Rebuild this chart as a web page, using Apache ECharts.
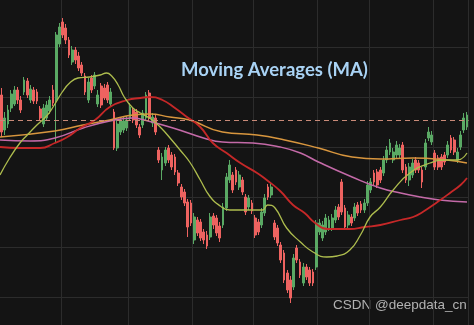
<!DOCTYPE html>
<html><head><meta charset="utf-8">
<script src="https://cdn.jsdelivr.net/npm/echarts@6.0.0/dist/echarts.min.js"></script>
<style>html,body{margin:0;padding:0;background:#141414;}#c{width:474px;height:325px;}</style>
</head><body><div id="c"></div>
<script>
// OHLC values (price units)
const openP = [
252,217,223,239,243,257,247,255,266,247,
257,255,238,223,229,236,257,247,303,325,
319,307,285,297,291,282,271,247,269,261,
243,261,259,262,243,235,199,215,217,219,
229,237,235,220,222,229,254,224,229,197,
177,184,199,192,190,174,160,155,145,144,
107,127,125,115,112,110,131,129,121,122,
139,167,172,177,160,167,150,140,144,129,
125,122,134,160,152,124,119,102,94,74,
67,60,99,85,64,80,77,75,80,115,
109,115,119,119,127,140,165,139,122,130,
129,142,143,137,144,157,174,175,177,174,
187,195,187,192,192,202,180,167,172,187,
184,177,180,209,205,194,189,190,192,192,
209,207,187,200,217,220];
const closeP = [
215,229,237,253,257,247,237,267,252,258,
246,246,229,239,242,247,244,312,320,312,
307,292,297,287,279,274,255,265,257,272,
252,242,249,247,255,199,223,227,226,227,
240,227,222,212,234,252,229,230,215,187,
190,197,187,180,175,164,150,144,120,124,
130,114,109,107,101,130,122,114,109,140,
170,182,157,165,172,155,135,149,136,112,
115,135,149,150,160,110,104,87,67,57,
49,89,87,72,80,70,64,64,124,124,
122,129,127,129,137,130,135,120,132,124,
140,134,137,144,162,165,165,162,167,187,
197,204,195,202,199,177,167,180,184,177,
177,165,204,215,212,180,180,180,185,202,
197,195,195,212,229,232];
const lowP = [
210,212,219,235,241,243,234,252,249,244,
243,243,226,220,226,233,241,204,300,309,
303,289,282,283,276,271,252,244,254,258,
240,239,247,244,240,197,196,212,214,216,
226,224,219,209,219,226,226,220,212,184,
167,181,184,177,172,161,147,141,110,121,
103,111,106,103,98,107,118,111,105,119,
136,164,154,162,157,152,132,137,133,109,
112,119,131,147,149,107,101,84,64,54,
44,57,84,69,61,67,61,61,77,112,
106,112,116,116,124,127,132,117,119,121,
126,131,134,134,141,154,162,159,164,171,
184,192,184,189,189,174,164,161,169,174,
174,159,177,206,202,177,177,177,182,189,
194,192,184,197,214,217];
const highP = [
259,235,242,257,261,260,251,270,269,262,
260,258,241,243,246,251,262,315,324,329,
323,310,301,300,295,285,274,269,272,275,
257,264,263,265,259,238,227,230,230,231,
244,240,238,223,237,255,257,234,232,200,
194,200,202,195,193,177,163,158,148,147,
134,130,128,118,116,134,134,132,125,144,
174,187,175,180,176,170,153,152,147,132,
128,139,153,163,164,127,122,105,97,77,
71,93,102,88,84,83,80,78,127,128,
126,133,131,133,141,143,168,142,136,133,
144,145,146,148,166,169,177,178,180,191,
201,208,199,206,203,205,183,184,188,190,
187,180,208,220,216,197,192,193,195,206,
212,210,199,216,234,235];

// Moving averages: [candle index, value]
const maGreen = [[-0.5,172],[2.5,189],[5.7,204],[8,212],[11,222],[14.3,232],[16.6,243],[18.9,255],[21.2,264],[23.8,269],[27.4,270],[30.7,272],[32.7,274],[34.3,271],[36.3,262],[38.2,250],[40.9,239],[43.2,234],[46.5,228],[49.7,219],[53,207],[55.6,197],[58.6,185],[61.9,167],[64.8,151],[68.1,141],[71.1,137],[77.3,137],[81.3,137],[82.9,142],[85.2,139],[88.8,119],[93.1,105],[97,95],[101.3,90],[104.6,91],[108.5,97],[111.8,112],[114.8,130],[118,140],[122,157],[127.2,174],[133.5,184],[138.7,187],[142,187],[145,194]];
const maRed = [[-0.5,200],[5.7,199],[12,199],[16.6,204],[20.5,210],[24.5,219],[29.1,227],[33.7,240],[39.2,247],[43.2,249],[46.1,250],[50.1,247],[54,239],[57.3,231],[61.9,220],[65.8,204],[70.1,194],[74.4,184],[79.6,174],[82.6,167],[86.8,156],[90.8,142],[94.4,134],[97.7,124],[101.6,118],[108.5,118],[113.1,120],[118,122],[124.3,127],[128.2,130],[131.2,135],[135.8,145],[139.7,154],[143,162],[145,169]];
const maPink = [[-0.5,207],[9,206],[16.6,209],[25.4,219],[33.7,226],[40.9,229],[43.2,228],[53.4,219],[63.9,208],[68.8,205],[78.3,204],[86.8,200],[93.1,194],[98.7,185],[109.2,170],[118,159],[124.3,154],[130.5,150],[136.4,147],[145,145]];
const maOrange = [[-0.5,210],[16.6,216],[25.4,222],[33.7,227],[40.9,232],[46.1,233],[52.4,230],[58.6,227],[68.8,215],[79.6,212],[88.2,207],[98.7,199],[109.2,190],[118,188],[128.2,189],[138.7,187],[145,184]];

const refLevel = 227;
const gridDays = [19, 40, 60, 79, 99, 115, 135];

const dates = [];
{
  const d0 = new Date(Date.UTC(2023, 0, 2));
  for (let i = 0; i < openP.length; i++) {
    const d = new Date(d0.getTime() + i * 86400000);
    dates.push(d.toISOString().slice(0, 10));
  }
}

const candles = openP.map((o, i) => [o, closeP[i], lowP[i], highP[i]]);
const UP = '#5aa964', DOWN = '#ee6360', GRID = '#2c2c2c';

const chart = echarts.init(document.getElementById('c'), null, {renderer: 'canvas'});
const lineS = (name, data, color, w) => ({
  name, type: 'line', xAxisIndex: 1, data, smooth: true, showSymbol: false,
  lineStyle: {color, width: w}, silent: true, z: 3
});
chart.setOption({
  backgroundColor: '#141414',
  animation: false,
  title: {
    text: 'Moving Averages (MA)', left: 176, top: 56,
    textStyle: {color: '#a9d3f5', fontSize: 18.5, fontWeight: 'bold', fontFamily: 'Lato'}
  },
  graphic: [{
    type: 'text', left: 333, top: 298,
    style: {text: 'CSDN @deepdata_cn', fill: 'rgba(205,205,205,0.85)', font: '13.5px "Liberation Sans", Arial, sans-serif'}
  }],
  grid: {left: 0, right: 5.4, top: -3, bottom: -22, outerBoundsMode: 'none', containLabel: false},
  xAxis: [{
    type: 'category', data: dates, boundaryGap: true,
    axisLine: {show: false}, axisTick: {show: false}, axisLabel: {show: false},
    splitLine: {show: true, interval: (i) => gridDays.includes(i), lineStyle: {color: GRID, width: 1}}
  }, {
    type: 'value', min: -0.5, max: openP.length - 0.5, show: false
  }],
  yAxis: {
    type: 'value', min: 0, max: 350, interval: 50,
    axisLine: {show: false}, axisTick: {show: false}, axisLabel: {show: false},
    splitLine: {show: true, lineStyle: {color: GRID, width: 1}}
  },
  series: [{
    type: 'candlestick', data: candles, barWidth: 2.3,
    itemStyle: {color: UP, color0: DOWN, borderColor: UP, borderColor0: DOWN, borderWidth: 1},
    markLine: {
      silent: true, symbol: ['none', 'none'], label: {show: false},
      lineStyle: {type: [5, 4], color: '#c98a78', width: 1},
      data: [{yAxis: refLevel}]
    }
  },
  lineS('MA200', maOrange, '#d8963e', 1.5),
  lineS('MA100', maPink, '#c46aa8', 1.5),
  lineS('MA50', maRed, '#c62828', 1.8),
  lineS('MA20', maGreen, '#aebd4e', 1.3)
  ]
});
</script></body></html>
